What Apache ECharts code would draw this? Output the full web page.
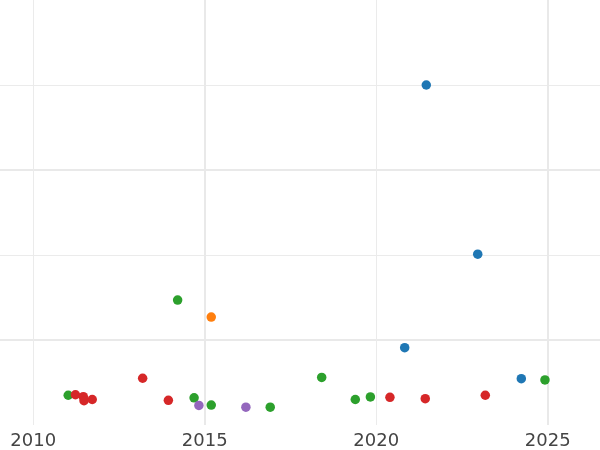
<!DOCTYPE html>
<html>
<head>
<meta charset="utf-8">
<script src="https://cdn.jsdelivr.net/npm/echarts@6/dist/echarts.min.js"></script>
<style>html,body{margin:0;padding:0;background:#fff}#c{width:600px;height:450px}</style>
</head>
<body>
<div id="c"></div>
<script>
// x tick labels shown
const xTicks = [2010, 2015, 2020, 2025];

// series data: [year, value]
const blueData = [[2020.83, 0.91], [2021.46, 4.0], [2022.96, 2.01], [2024.23, 0.545]];
const orangeData = [[2015.19, 1.27]];
const greenData = [[2011.02, 0.35], [2014.21, 1.47], [2014.69, 0.32], [2015.19, 0.235], [2016.91, 0.21],
  [2018.41, 0.56], [2019.39, 0.30], [2019.83, 0.33], [2024.92, 0.53]];
const redData = [[2011.23, 0.356], [2011.46, 0.333], [2011.48, 0.286], [2011.72, 0.30], [2013.19, 0.55],
  [2013.94, 0.29], [2020.40, 0.326], [2021.43, 0.31], [2023.18, 0.35]];
const purpleData = [[2014.83, 0.23], [2016.20, 0.21]];

const seriesList = [
  { name: 'blue', data: blueData, color: '#1f77b4' },
  { name: 'orange', data: orangeData, color: '#ff7f0e' },
  { name: 'green', data: greenData, color: '#2ca02c' },
  { name: 'red', data: redData, color: '#d62728' },
  { name: 'purple', data: purpleData, color: '#9467bd' }
];

const thin = '#ebebeb', thick = '#e9e9e9';
const chart = echarts.init(document.getElementById('c'), null, { renderer: 'canvas' });
chart.setOption({
  animation: false,
  backgroundColor: '#ffffff',
  grid: [
    { left: -138.25, right: -119.2, top: 0, bottom: 25, outerBoundsMode: 'none', containLabel: false },
    { left: 0, right: 0, top: 0, bottom: -60, outerBoundsMode: 'none', containLabel: false }
  ],
  xAxis: [
    { gridIndex: 0, type: 'value', min: 2005, max: 2030, interval: 5,
      axisLine: { show: false }, axisTick: { show: false },
      axisLabel: { fontSize: 18, color: '#444444', margin: 7, fontFamily: 'DejaVu Sans',
        formatter: v => xTicks.includes(v) ? String(v) : '' },
      splitLine: { show: true, lineStyle: { color: thin, width: 1 } } },
    { gridIndex: 0, type: 'value', min: 2005, max: 2030, interval: 10,
      axisLine: { show: false }, axisTick: { show: false }, axisLabel: { show: false },
      splitLine: { show: true, lineStyle: { color: thick, width: 2 } } },
    { gridIndex: 1, type: 'value', min: 0, max: 1,
      axisLine: { show: false }, axisTick: { show: false }, axisLabel: { show: false },
      splitLine: { show: false } }
  ],
  yAxis: [
    { gridIndex: 0, type: 'value', min: 0, max: 5, interval: 1,
      axisLine: { show: false }, axisTick: { show: false }, axisLabel: { show: false },
      splitLine: { show: true, showMinLine: false, showMaxLine: false, lineStyle: { color: thin, width: 1 } } },
    { gridIndex: 1, type: 'value', min: -1, max: 5, interval: 2,
      axisLine: { show: false }, axisTick: { show: false }, axisLabel: { show: false },
      splitLine: { show: true, showMinLine: false, showMaxLine: false, lineStyle: { color: thick, width: 2 } } }
  ],
  series: seriesList.map(s => ({
    type: 'scatter', name: s.name, data: s.data, xAxisIndex: 0, yAxisIndex: 0,
    symbol: 'circle', symbolSize: 9.5,
    itemStyle: { color: s.color, opacity: 1 },
    emphasis: { disabled: true }
  }))
});
</script>
</body>
</html>
